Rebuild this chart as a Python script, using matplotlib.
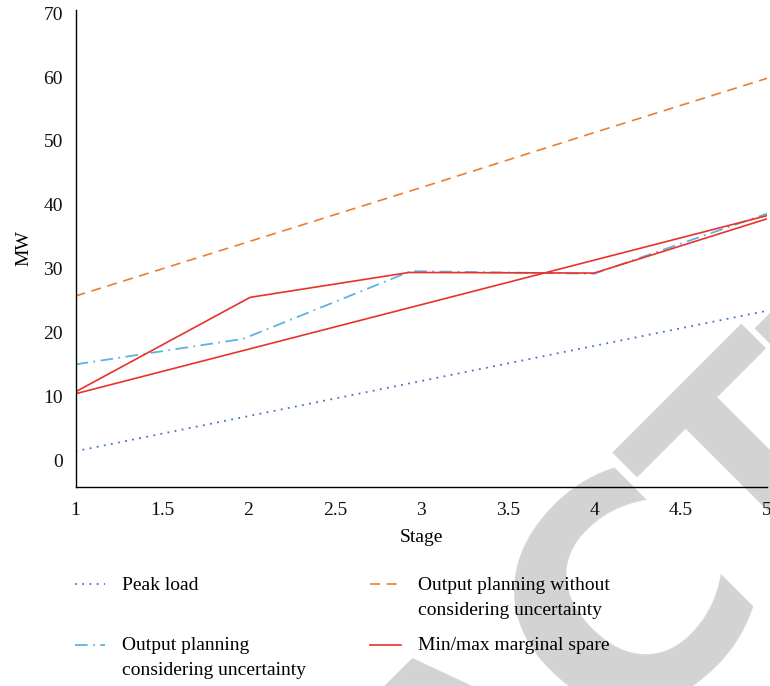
import matplotlib
matplotlib.use("Agg")
import matplotlib.pyplot as plt
from matplotlib.legend_handler import HandlerLine2D

# Datos
stages = [1, 2, 3, 4, 5]
peak_load = [1.4, 6.9, 12.4, 17.9, 23.4]
plan_no_unc = [25.7, 34.2, 42.7, 51.3, 59.8]

stages_unc = [1, 1.97, 2.94, 4.0, 5]
plan_unc = [15.0, 19.0, 29.6, 29.2, 38.6]

stages_max = [1, 2.01, 2.93, 4.0, 5]
spare_max = [10.7, 25.5, 29.4, 29.3, 37.8]

stages_min = [1, 5]
spare_min = [10.4, 38.3]

labels = ["Peak load\n ",
          "Output planning\nconsidering uncertainty",
          "Output planning without\nconsidering uncertainty",
          "Min/max marginal spare\n "]

xticks = [1, 1.5, 2, 2.5, 3, 3.5, 4, 4.5, 5]
yticks = [0, 10, 20, 30, 40, 50, 60, 70]

# letras visibles da marca de auga: posicion ao longo da liña base (u)
# e distancia da liña base (s), en px
wm_letters = ["A", "C", "T", "E"]
wm_u = [-198, 17, 205, 390]
wm_s = [965, 963, 965, 965]
wm_fonts = ["Liberation Sans", "DejaVu Sans", "Liberation Sans", "Liberation Sans"]
wm_sizes = [223, 219, 223, 223]

plt.rcParams['font.family'] = ['Liberation Serif', 'DejaVu Serif']
fs = 14
W, H = 770, 686


class UpHandler(HandlerLine2D):
    # sobe a mostra da lenda ata a primeira liña do texto
    def __init__(self, shift, **kw):
        super().__init__(**kw)
        self.shift = shift

    def create_artists(self, legend, orig_handle, xdescent, ydescent,
                       width, height, fontsize, trans):
        arts = super().create_artists(legend, orig_handle, xdescent, ydescent,
                                      width, height, fontsize, trans)
        for a in arts:
            y = a.get_ydata()
            a.set_ydata([v + self.shift * fontsize for v in y])
        return arts


fig = plt.figure(figsize=(W / 100, H / 100), dpi=100)
ax = fig.add_axes([75.5 / W, 1 - 487 / H, (767 - 75.5) / W, 477 / H])
ax.set_facecolor('none')

# marca de auga de fondo, rotada 45 graos
r2 = 2 ** 0.5
for ch, u, s, fam, size in zip(wm_letters, wm_u, wm_s, wm_fonts, wm_sizes):
    px = (u + s) / r2
    py = (s - u) / r2
    fig.text(px / W, 1 - py / H, ch, rotation=45, rotation_mode='anchor',
             ha='center', va='baseline', fontsize=size, fontweight='bold',
             family=fam, color='#d3d3d3', zorder=-5)

l1, = ax.plot(stages, peak_load, color='#4a6fc8', lw=1.3, ls=(0, (1, 3)))
l2, = ax.plot(stages_unc, plan_unc, color='#5bb4e0', lw=1.3, ls=(0, (7, 3, 1, 3)))
l3, = ax.plot(stages, plan_no_unc, color='#ef7d31', lw=1.2, ls=(0, (6, 4)))
l4, = ax.plot(stages_max, spare_max, color='#e8322b', lw=1.2)
ax.plot(stages_min, spare_min, color='#e8322b', lw=1.2)

ax.set_xlim(1, 5)
ax.set_ylim(-4.2, 70.5)
ax.set_xticks(xticks)
ax.set_xticklabels([f"{t:g}" for t in xticks])
ax.set_yticks(yticks)
ax.tick_params(length=0, labelsize=fs, colors='#111111')
ax.tick_params(axis='x', pad=11)
ax.tick_params(axis='y', pad=9)
for s in ['top', 'right']:
    ax.spines[s].set_visible(False)
for s in ['left', 'bottom']:
    ax.spines[s].set_linewidth(1.0)

ax.set_xlabel("Stage", fontsize=fs, labelpad=7)
ax.set_ylabel("MW", fontsize=fs, labelpad=8)

hm = {h: UpHandler(0.69) for h in [l1, l2, l3, l4]}
leg = fig.legend([l1, l2, l3, l4], labels, loc='upper left',
                 bbox_to_anchor=(75 / W, 1 - 577 / H), ncol=2,
                 frameon=False, fontsize=fs, handlelength=1.55,
                 handletextpad=0.88, columnspacing=3.3, labelspacing=0.94,
                 borderpad=0, borderaxespad=0, handler_map=hm)
for t in leg.get_texts():
    t.set_linespacing(1.62)

fig.savefig("out.png", dpi=100)
